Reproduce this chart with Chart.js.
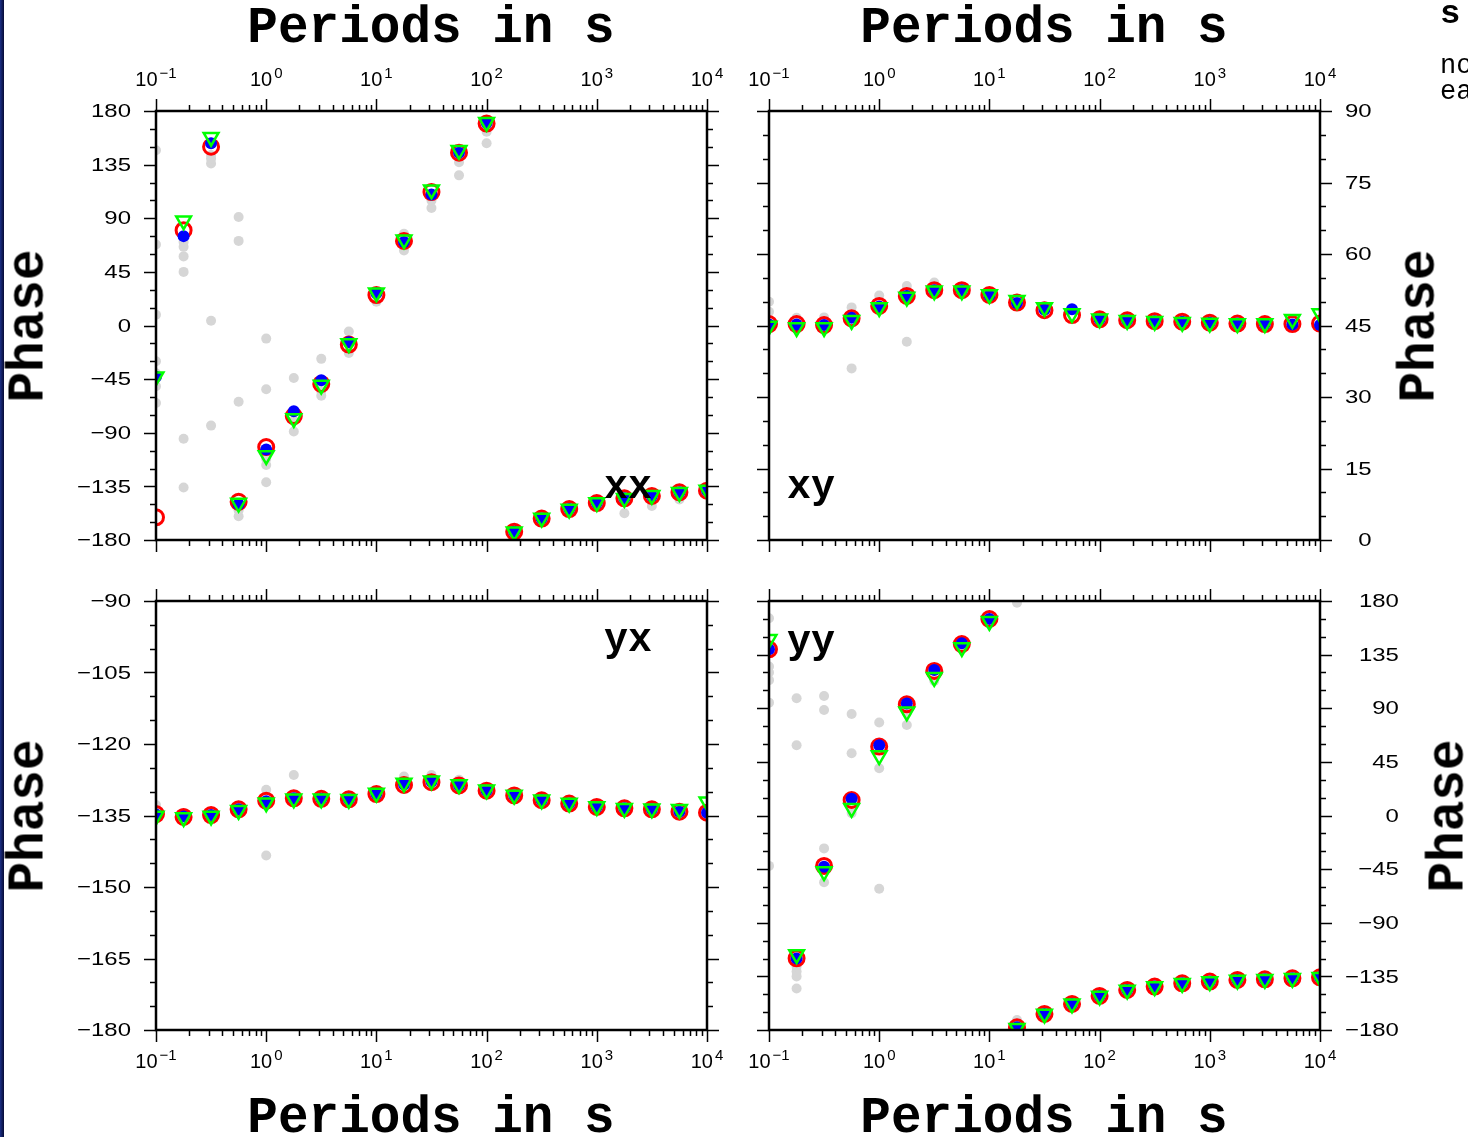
<!DOCTYPE html>
<html>
<head>
<meta charset="utf-8">
<script src="https://cdn.jsdelivr.net/npm/chart.js@4.4.1/dist/chart.umd.min.js"></script>
<style>
  html, body { margin: 0; padding: 0; background: #fff; }
  body { position: relative; width: 1468px; height: 1137px; overflow: hidden; }
  canvas { position: absolute; }
  .strip { position: absolute; left: 0; top: 0; width: 4px; height: 1137px;
           background: linear-gradient(to right, #1b2f86, #070b35); }
  .title { position: absolute; font: bold 51px "Liberation Mono", monospace; line-height: 51px;
           white-space: nowrap; transform: translateX(-50%); color: #000; }
  .phase { position: absolute; font: bold 51px "Liberation Mono", monospace; line-height: 51px;
           white-space: nowrap; transform: translate(-50%, -50%) rotate(-90deg); color: #000; }
  .tag { position: absolute; font: bold 40px "Liberation Mono", monospace; line-height: 40px;
         white-space: nowrap; color: #000; }
  .side { position: absolute; font: 27px "Liberation Mono", monospace; line-height: 26px;
          white-space: pre; color: #000; }
</style>
</head>
<body>
<div class="strip"></div>
<canvas id="cXX" width="734" height="570" style="left:0px;top:0px"></canvas>
<canvas id="cXY" width="734" height="570" style="left:734px;top:0px"></canvas>
<canvas id="cYX" width="734" height="567" style="left:0px;top:570px"></canvas>
<canvas id="cYY" width="734" height="567" style="left:734px;top:570px"></canvas>

<div class="title" style="left:431px;top:3px">Periods in s</div>
<div class="title" style="left:1044px;top:3px">Periods in s</div>
<div class="title" style="left:431px;top:1093px">Periods in s</div>
<div class="title" style="left:1044px;top:1093px">Periods in s</div>

<div class="phase" style="left:29px;top:326px">Phase</div>
<div class="phase" style="left:29px;top:816px">Phase</div>
<div class="phase" style="left:1420px;top:326px">Phase</div>
<div class="phase" style="left:1449px;top:816px">Phase</div>

<div class="tag" style="left:604px;top:468px">xx</div>
<div class="tag" style="left:787px;top:468px">xy</div>
<div class="tag" style="left:604px;top:621px">yx</div>
<div class="tag" style="left:787px;top:623px">yy</div>

<div class="tag" style="left:1440px;top:-6px;font-size:34px">s</div>
<div class="side" style="left:1440px;top:53px">no
ea</div>

<script>
// periods (s), 4 per decade
const periods = [0.1, 0.178, 0.316, 0.562, 1, 1.78, 3.16, 5.62, 10, 17.8, 31.6, 56.2,
  100, 178, 316, 562, 1000, 1780, 3160, 5620, 10000];

// x tick labels (decades) and their exponents
const decades = [0.1, 1, 10, 100, 1000, 10000];
const decadeExp = ["\u22121", "0", "1", "2", "3", "4"];

// xx
const xxRed = [-161, 80, 150, -148, -102, -76, -49, -16, 25.5, 71, 112, 145, 169.5,
  -173, -162, -154, -149, -145, -143, -140, -138.6];
const xxBlue = [-43, 75, 153, -150, -104, -72, -46, -14, 27, 70, 110, 145, 170,
  -173, -162, -154, -149, -145, -143, -140, -138.6];
const xxGreen = [-43, 88, 158, -149, -109, -78, -50, -15, 27.5, 72, 114, 147, 170.5,
  -173, -161.5, -154, -148.5, -145, -142.5, -140, -138];
const xxGray = [[0, 147], [0, 68], [0, 9], [0, -30], [0, -51], [0, -65], [0, -40],
  [1, 66], [1, 58], [1, 45], [1, -95], [1, -136], [1, 70],
  [2, 143], [2, 136], [2, 140], [2, 4], [2, -84],
  [3, -160], [3, -155], [3, 91], [3, 71], [3, -64],
  [4, -117], [4, -131.6], [4, -11], [4, -53.5], [4, -112],
  [5, -89], [5, -44], [5, -80], [6, -59], [6, -28], [6, -55], [7, -5], [7, -23],
  [8, 20], [9, 77], [9, 63], [10, 105], [10, 98.6], [11, 137], [11, 126],
  [12, 162.6], [12, 153], [13, -171], [17, -157.6], [18, -151.5], [19, -146]];

// xy
const xyRed = [45.3, 45.3, 45.1, 46.5, 49.1, 51.2, 52.4, 52.4, 51.4, 49.8, 48.2, 47.2,
  46.3, 46.1, 45.9, 45.8, 45.6, 45.4, 45.3, 45.3, 45.4];
const xyBlue = [45.2, 45.2, 45.1, 46.6, 49.0, 51.2, 52.4, 52.4, 51.3, 49.7, 48.3, 48.4,
  46.3, 46.1, 45.9, 45.8, 45.6, 45.4, 45.3, 45.2, 45.1];
const xyGreen = [44.9, 44.6, 44.6, 46.1, 48.8, 51.0, 52.3, 52.3, 51.5, 50.3, 48.8, 47.5,
  46.4, 46.1, 45.9, 45.7, 45.5, 45.4, 45.4, 46.3, 47.5];
const xyGray = [[0, 50.0], [0, 47.9], [1, 46.6], [1, 45.8], [2, 46.7], [3, 48.8], [3, 36.0],
  [4, 51.3], [5, 53.3], [5, 41.6], [6, 54.0], [7, 52.8], [9, 50.6], [10, 49.0]];

// yx
const yxRed = [-134.7, -135.3, -134.9, -133.7, -131.9, -131.4, -131.5, -131.6, -130.5,
  -128.6, -128.0, -128.7, -129.8, -130.8, -131.8, -132.5, -133.2, -133.5, -133.7, -134.2, -134.4];
const yxBlue = [-134.8, -135.2, -134.9, -133.7, -132.0, -131.4, -131.5, -131.6, -130.5,
  -128.5, -127.9, -128.7, -129.8, -130.8, -131.8, -132.5, -133.2, -133.5, -133.7, -134.2, -134.4];
const yxGreen = [-135.1, -135.4, -135.1, -133.9, -132.3, -131.5, -131.5, -131.6, -130.3,
  -128.2, -127.7, -128.5, -129.6, -130.7, -131.7, -132.4, -133.1, -133.5, -133.6, -133.7, -132.1];
const yxGray = [[0, -132.8], [1, -134.5], [3, -133.0], [4, -129.6], [4, -143.4], [5, -126.5],
  [8, -130.0], [9, -126.8], [10, -126.5], [11, -127.5]];

// yy
const yyRed = [139.5, -119.8, -42.3, 13, 57.8, 93.3, 121.3, 143.9, 164.9, -177.7, -166.5,
  -158.1, -151.4, -146.4, -143.6, -140.8, -139.4, -138, -137.5, -136.6, -135.8];
const yyBlue = [139.5, -120, -43, 14, 59, 94, 122, 144.5, 165, -177.7, -166.5,
  -158.1, -151.4, -146.4, -143.6, -140.8, -139.4, -138, -137.5, -136.6, -135.8];
const yyGreen = [147.8, -116.6, -47, 6, 50.3, 87, 116, 141, 163, -178.5, -166.5,
  -158, -151.4, -146.4, -143.6, -140.8, -139.4, -138, -137.5, -136.6, -135.8];
const yyGray = [[0, 165.5], [0, 125], [0, 120], [0, 113.6], [0, 94.7], [0, -42.3],
  [1, -126.8], [1, -131], [1, -135], [1, -145.2], [1, 98.4], [1, 59],
  [2, -56], [2, -27.6], [2, 100.3], [2, 88.6], [3, 85.2], [3, 52.2], [3, 2],
  [4, 39.6], [4, 78], [4, -61.5], [5, 76], [5, 86], [6, 113], [7, 140],
  [9, 178.6], [9, -171.7]];

function toPoints(vals) {
  return vals.map((v, i) => ({ x: periods[i], y: v }));
}
function grayPoints(pairs) {
  return pairs.map(p => ({ x: periods[p[0]], y: p[1] }));
}
function fmt(v) {
  return v < 0 ? "\u2212" + Math.abs(v) : String(v);
}

const Y_FONT = '19px "Liberation Sans", Arial, sans-serif';
const Y_STRETCH = 1.26; // y tick labels are drawn wide in the original

// frame, tick marks and tick labels, placed through the chart's scales
const framePlugin = {
  id: "frame",
  afterDraw(chart, args, o) {
    const { ctx, chartArea: a } = chart;
    const xs = chart.scales.x, ys = chart.scales.y;
    ctx.save();
    ctx.strokeStyle = "#000";
    ctx.lineWidth = 1.5;
    ctx.beginPath();
    // log x ticks 1..9 per decade
    for (let d = 0; d < decades.length; d++) {
      for (let m = 1; m <= 9; m++) {
        const v = decades[d] * m;
        if (v > 10000.001) break;
        const px = Math.round(xs.getPixelForValue(v)) + 0.5;
        const len = m === 1 ? 12 : 6;
        ctx.moveTo(px, a.top); ctx.lineTo(px, a.top - len);
        ctx.moveTo(px, a.bottom); ctx.lineTo(px, a.bottom + len);
      }
    }
    // y ticks
    for (let v = o.min; v <= o.max + 0.001; v += o.minor) {
      const py = Math.round(ys.getPixelForValue(v)) + 0.5;
      const len = o.labels.includes(v) ? 12 : 6;
      ctx.moveTo(a.left, py); ctx.lineTo(a.left - len, py);
      ctx.moveTo(a.right, py); ctx.lineTo(a.right + len, py);
    }
    ctx.stroke();
    ctx.lineWidth = 2.5;
    ctx.strokeRect(a.left, a.top, a.right - a.left, a.bottom - a.top);

    // y labels
    ctx.fillStyle = "#000";
    ctx.font = Y_FONT;
    ctx.textBaseline = "middle";
    ctx.textAlign = "right";
    let xr;
    if (o.ySide === "left") {
      xr = a.left - 25;
    } else {
      const widest = Math.max(...o.labels.map(v => ctx.measureText(fmt(v)).width)) * Y_STRETCH;
      xr = a.right + 25 + widest;
    }
    o.labels.forEach(v => {
      ctx.save();
      ctx.translate(xr, ys.getPixelForValue(v) + 1);
      ctx.scale(Y_STRETCH, 1);
      ctx.fillText(fmt(v), 0, 0);
      ctx.restore();
    });

    // x labels 10^n
    ctx.textBaseline = "alphabetic";
    ctx.textAlign = "left";
    const base = o.xSide === "top" ? a.top - 25 : a.bottom + 38;
    decades.forEach((v, i) => {
      ctx.font = '20px "Liberation Sans", Arial, sans-serif';
      const w1 = ctx.measureText("10").width;
      ctx.font = '15px "Liberation Sans", Arial, sans-serif';
      const w2 = ctx.measureText(decadeExp[i]).width;
      const px = xs.getPixelForValue(v);
      const x0 = px - (w1 + w2 + 2) / 2;
      ctx.font = '20px "Liberation Sans", Arial, sans-serif';
      ctx.fillText("10", x0, base);
      ctx.font = '15px "Liberation Sans", Arial, sans-serif';
      ctx.fillText(decadeExp[i], x0 + w1 + 2, base - 8);
    });
    ctx.restore();
  }
};

// Chart.js paints the first dataset last, so the topmost marker comes first
function makePanel(id, red, blue, green, gray, opts, pad) {
  const ctx = document.getElementById(id).getContext("2d");
  return new Chart(ctx, {
    type: "scatter",
    data: {
      datasets: [
        { data: toPoints(green), pointStyle: "triangle", pointRotation: 180, pointRadius: 8.5,
          pointBorderColor: "#00ff00", pointBackgroundColor: "rgba(0,0,0,0)",
          pointBorderWidth: 2.5, clip: 0 },
        { data: toPoints(blue), pointRadius: 6, pointBackgroundColor: "#0000ff",
          pointBorderWidth: 0, clip: 0 },
        { data: toPoints(red), pointRadius: 7.5, pointBorderColor: "#ff0000",
          pointBackgroundColor: "rgba(0,0,0,0)", pointBorderWidth: 3, clip: 0 },
        { data: grayPoints(gray), pointRadius: 5, pointBackgroundColor: "#d6d6d6",
          pointBorderWidth: 0, clip: 0 },
      ],
    },
    options: {
      responsive: false,
      animation: false,
      devicePixelRatio: 1,
      events: [],
      layout: { padding: pad },
      plugins: { legend: { display: false }, tooltip: { enabled: false }, frame: opts },
      scales: {
        x: { type: "logarithmic", min: 0.1, max: 10000, display: false },
        y: { type: "linear", min: opts.min, max: opts.max, display: false },
      },
    },
    plugins: [framePlugin],
  });
}

makePanel("cXX", xxRed, xxBlue, xxGreen, xxGray,
  { min: -180, max: 180, minor: 15, labels: [-180, -135, -90, -45, 0, 45, 90, 135, 180],
    ySide: "left", xSide: "top" },
  { left: 156, top: 111, right: 27, bottom: 30 });

makePanel("cXY", xyRed, xyBlue, xyGreen, xyGray,
  { min: 0, max: 90, minor: 5, labels: [0, 15, 30, 45, 60, 75, 90],
    ySide: "right", xSide: "top" },
  { left: 35, top: 111, right: 148, bottom: 30 });

makePanel("cYX", yxRed, yxBlue, yxGreen, yxGray,
  { min: -180, max: -90, minor: 5, labels: [-180, -165, -150, -135, -120, -105, -90],
    ySide: "left", xSide: "bottom" },
  { left: 156, top: 31, right: 27, bottom: 107 });

makePanel("cYY", yyRed, yyBlue, yyGreen, yyGray,
  { min: -180, max: 180, minor: 15, labels: [-180, -135, -90, -45, 0, 45, 90, 135, 180],
    ySide: "right", xSide: "bottom" },
  { left: 35, top: 31, right: 148, bottom: 107 });
</script>
</body>
</html>
